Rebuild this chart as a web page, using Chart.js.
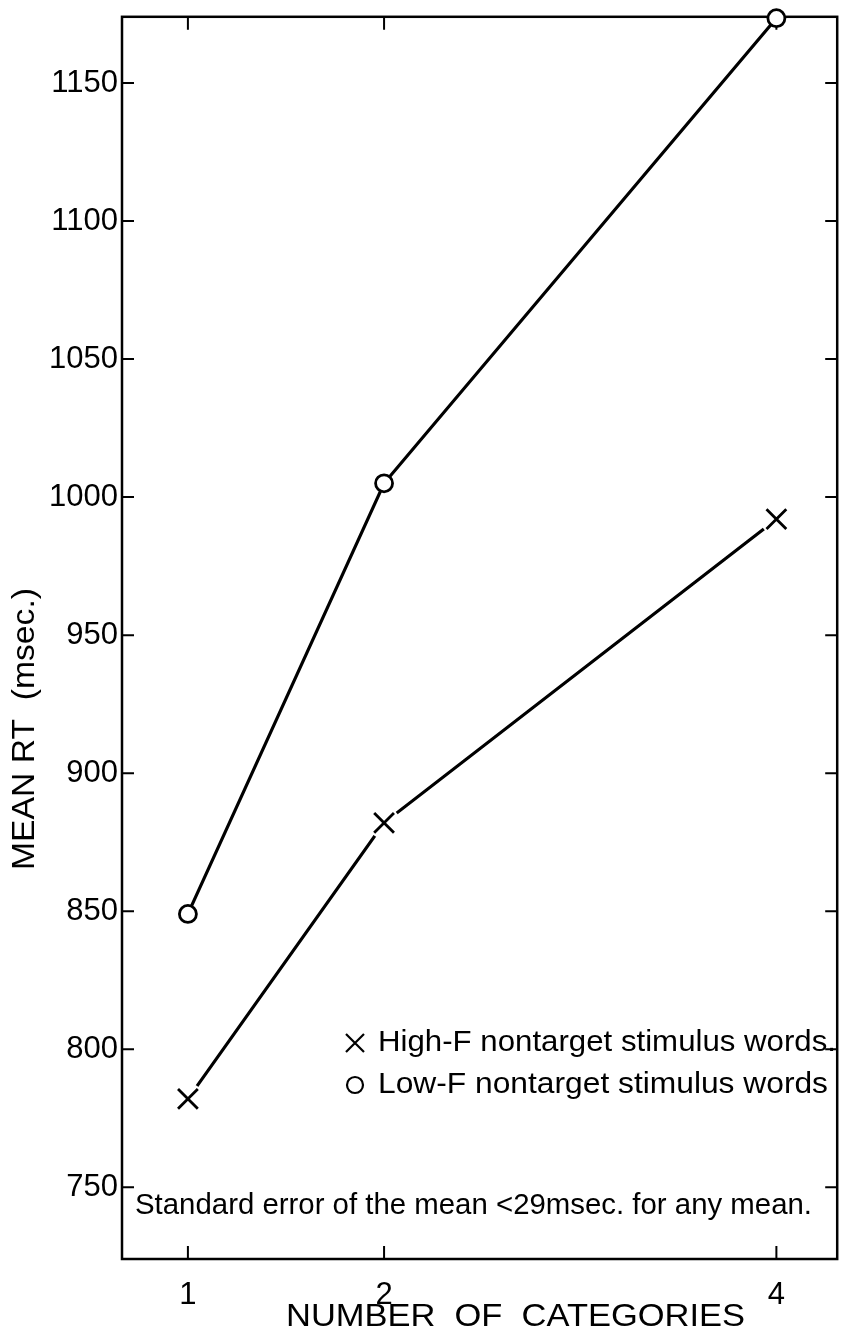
<!DOCTYPE html>
<html>
<head>
<meta charset="utf-8">
<script src="https://cdn.jsdelivr.net/npm/chart.js@4"></script>
<style>
  html, body { margin: 0; padding: 0; background: #fff; }
  #wrap { width: 854px; height: 1335px; }
</style>
</head>
<body>
<div id="wrap"><canvas id="chart" width="854" height="1335"></canvas></div>
<script>
// values
const categories = [1, 2, 4];
const highF = [782, 882, 992];      // x markers
const lowF = [849, 1005, 1173.5];   // open circles
const yTicks = [750, 800, 850, 900, 950, 1000, 1050, 1100, 1150];
const highLabel = "High-F nontarget stimulus words.";
const lowLabel = "Low-F nontarget stimulus words";
const noteText = "Standard error of the mean <29msec. for any mean.";
const xTitle = "NUMBER  OF  CATEGORIES";
const yTitle = "MEAN RT  (msec.)";

const FONT = "'Liberation Sans', Arial, sans-serif";
const toPoints = (vals) => categories.map((c, i) => ({ x: c, y: vals[i] }));

// squeeze text horizontally so it spans the given width
function fitText(ctx, text, x, y, width, size) {
  ctx.save();
  ctx.font = size + "px " + FONT;
  const w = ctx.measureText(text).width;
  ctx.translate(x, y);
  ctx.scale(width / w, 1);
  ctx.textAlign = "left";
  ctx.textBaseline = "middle";
  ctx.fillText(text, 0, 0);
  ctx.restore();
}

const framePlugin = {
  id: "frame",
  beforeDatasetsDraw(chart) {
    const { ctx, chartArea: a, scales } = chart;
    ctx.save();
    ctx.strokeStyle = "#000";
    ctx.lineWidth = 2.5;
    ctx.strokeRect(a.left, a.top, a.right - a.left, a.bottom - a.top);
    ctx.lineWidth = 2;
    ctx.beginPath();
    yTicks.forEach((v) => {
      const py = scales.y.getPixelForValue(v);
      ctx.moveTo(a.left, py); ctx.lineTo(a.left + 12, py);
      ctx.moveTo(a.right, py); ctx.lineTo(a.right - 12, py);
    });
    categories.forEach((c) => {
      const px = scales.x.getPixelForValue(c);
      ctx.moveTo(px, a.bottom); ctx.lineTo(px, a.bottom - 13);
      ctx.moveTo(px, a.top); ctx.lineTo(px, a.top + 13);
    });
    ctx.stroke();
    ctx.restore();
  },
  afterDraw(chart) {
    const { ctx } = chart;
    ctx.save();
    ctx.fillStyle = "#000";
    ctx.strokeStyle = "#000";
    ctx.lineWidth = 2.2;

    // legend, inside the plot
    const mx = 355, y1 = 1043, y2 = 1085;
    ctx.beginPath();
    ctx.moveTo(mx - 9, y1 - 9); ctx.lineTo(mx + 9, y1 + 9);
    ctx.moveTo(mx + 9, y1 - 9); ctx.lineTo(mx - 9, y1 + 9);
    ctx.stroke();
    ctx.beginPath();
    ctx.arc(mx, y2, 8, 0, Math.PI * 2);
    ctx.stroke();
    fitText(ctx, highLabel, 378, y1, 458, 30);
    fitText(ctx, lowLabel, 378, y2, 450, 30);

    // note along the bottom
    fitText(ctx, noteText, 135, 1206, 677, 30);

    // axis titles
    fitText(ctx, xTitle, 286, 1317, 459, 31);
    ctx.save();
    ctx.translate(25, 870);
    ctx.rotate(-Math.PI / 2);
    fitText(ctx, yTitle, 0, 0, 282, 31);
    ctx.restore();

    ctx.restore();
  }
};

const ctx = document.getElementById("chart").getContext("2d");
const chart = new Chart(ctx, {
  type: "line",
  data: {
    datasets: [
      {
        label: "High-F markers",
        data: toPoints(highF),
        showLine: false,
        pointStyle: "crossRot",
        pointRadius: 14,
        pointBorderWidth: 2.8,
        pointBorderColor: "#000",
        clip: false,
        order: 0,
      },
      {
        label: "High-F gap",
        data: toPoints(highF),
        showLine: false,
        pointStyle: "circle",
        pointRadius: 16,
        pointBorderWidth: 0,
        pointBackgroundColor: "#fff",
        pointBorderColor: "#fff",
        clip: false,
        order: 1,
      },
      {
        label: "High-F nontarget stimulus words",
        data: toPoints(highF),
        borderColor: "#000",
        borderWidth: 3.2,
        pointRadius: 0,
        tension: 0,
        order: 2,
      },
      {
        label: "Low-F nontarget stimulus words",
        data: toPoints(lowF),
        borderColor: "#000",
        borderWidth: 3.2,
        pointStyle: "circle",
        pointRadius: 8.5,
        pointBorderWidth: 2.8,
        pointBorderColor: "#000",
        pointBackgroundColor: "#fff",
        tension: 0,
        clip: false,
        order: 3,
      },
    ],
  },
  options: {
    responsive: false,
    animation: false,
    events: [],
    layout: { padding: { top: 14, right: 5, left: 0, bottom: 0 } },
    plugins: {
      legend: { display: false },
      tooltip: { enabled: false },
      title: { display: false },
    },
    scales: {
      x: {
        type: "linear",
        min: 0.664,
        max: 4.31,
        afterBuildTicks: (s) => { s.ticks = categories.map((v) => ({ value: v })); },
        afterFit: (s) => { s.height = 76; s.paddingLeft = 0; s.paddingRight = 0; },
        grid: { display: false, drawTicks: false },
        border: { display: false },
        ticks: {
          color: "#000",
          padding: 18,
          font: { family: FONT, size: 31 },
          maxRotation: 0,
          autoSkip: false,
          callback: (v) => String(v),
        },
      },
      y: {
        type: "linear",
        min: 724,
        max: 1174,
        afterBuildTicks: (s) => { s.ticks = yTicks.map((v) => ({ value: v })); },
        afterFit: (s) => { s.width = 122; s.paddingTop = 0; s.paddingBottom = 0; },
        grid: { display: false, drawTicks: false },
        border: { display: false },
        ticks: {
          color: "#000",
          padding: 4,
          font: { family: FONT, size: 31 },
          autoSkip: false,
          callback: (v) => String(v),
        },
      },
    },
  },
  plugins: [framePlugin],
});
</script>
</body>
</html>
